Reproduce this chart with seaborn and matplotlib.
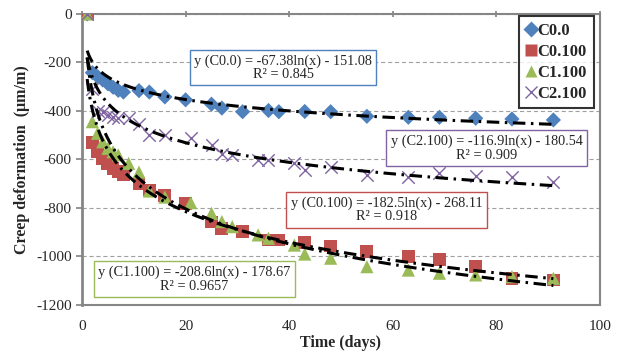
import numpy as np
import pandas as pd
import matplotlib
matplotlib.use("Agg")
import matplotlib.pyplot as plt
import seaborn as sns
from matplotlib.lines import Line2D

# ---------------- data ----------------
series_names = ["C0.0", "C0.100", "C1.100", "C2.100"]

days_a = [1, 2, 3, 4, 5, 6, 7, 8, 11, 13, 16, 20, 25, 27, 31, 36, 38, 43, 48, 55, 63, 69, 76, 83, 91]
days_b = [1, 2, 3, 4, 5, 6, 7, 9, 11, 13, 16, 21, 25, 27, 29, 34, 36, 41, 43, 48, 55, 63, 69, 76, 83, 91]

c00 = [0, -242, -258, -272, -288, -302, -315, -322, -316, -322, -342, -354, -372, -388, -403,
       -398, -403, -402, -403, -422, -426, -426, -430, -433, -437]
c0100 = [0, -530, -568, -595, -616, -636, -650, -664, -698, -726, -750, -780, -858, -884, -898,
         -932, -932, -943, -957, -980, -1001, -1014, -1042, -1090, -1097]
c1100 = [0, -444, -492, -527, -554, -568, -581, -616, -652, -730, -755, -778, -822, -856, -877,
         -911, -925, -953, -990, -1007, -1042, -1056, -1069, -1076, -1083, -1090]
c2100 = [0, -310, -400, -405, -415, -425, -430, -428, -455, -497, -497, -511, -540, -576, -580,
         -602, -602, -616, -643, -629, -664, -671, -657, -668, -671, -692]

# logarithmic trendline coefficients y = a ln(x) + b
trend_a = [-67.38, -182.5, -208.6, -116.9]
trend_b = [-151.08, -268.11, -178.67, -180.54]
trend_r2 = ["0.845", "0.918", "0.9657", "0.909"]

x_ticks = [0, 20, 40, 60, 80, 100]
y_ticks = [0, -200, -400, -600, -800, -1000, -1200]

# ---------------- style ----------------
sns.set_theme(style="white")
plt.rcParams["font.family"] = ["Liberation Serif", "DejaVu Serif"]
plt.rcParams["lines.scale_dashes"] = False
plt.rcParams["axes.unicode_minus"] = False

colors = {"C0.0": "#4F81BD", "C0.100": "#C0504D", "C1.100": "#9BBB59", "C2.100": "#8064A2"}
markers = {"C0.0": "D", "C0.100": "s", "C1.100": "^", "C2.100": "x"}
sizes = {"C0.0": 60, "C0.100": 85, "C1.100": 90, "C2.100": 80}

frames = [
    pd.DataFrame({"day": days_a, "val": c00, "series": "C0.0"}),
    pd.DataFrame({"day": days_a, "val": c0100, "series": "C0.100"}),
    pd.DataFrame({"day": days_b, "val": c1100, "series": "C1.100"}),
    pd.DataFrame({"day": days_b, "val": c2100, "series": "C2.100"}),
]
df = pd.concat(frames, ignore_index=True)

fig = plt.figure(figsize=(6.25, 3.57), dpi=100)
ax = fig.add_axes([0.1312, 0.1457, 0.8288, 0.8151])

# gridlines
ax.set_axisbelow(True)
ax.yaxis.grid(True, color="#A0A0A0", linestyle=(0, (3, 2)), linewidth=0.8)
ax.xaxis.grid(False)

for name in series_names:
    sub = df[df["series"] == name]
    if markers[name] == "x":
        sns.scatterplot(data=sub, x="day", y="val", ax=ax, marker="x", color=colors[name],
                        s=sizes[name], linewidth=1.0, legend=False, zorder=3)
    else:
        sns.scatterplot(data=sub, x="day", y="val", ax=ax, marker=markers[name], color=colors[name],
                        s=sizes[name], edgecolor="none", legend=False, zorder=3)

# trendlines
xt = np.linspace(1, 91, 400)
for a, b in zip(trend_a, trend_b):
    ax.plot(xt, a * np.log(xt) + b, color="black", linewidth=2.2,
            dashes=(9, 4, 1.8, 4), zorder=4)

ax.set_xlim(0, 100)
ax.set_ylim(-1200, 0)
ax.set_xticks(x_ticks)
ax.set_yticks(y_ticks)
ax.tick_params(axis="x", top=True, bottom=False, labeltop=False, labelbottom=True,
               direction="inout", length=5, color="#868686", labelsize=11, pad=8)
ax.tick_params(axis="y", left=True, direction="out", length=4, color="#868686", labelsize=11)
for side in ["left", "bottom", "top", "right"]:
    ax.spines[side].set_visible(True)
    ax.spines[side].set_color("#868686")
ax.spines["left"].set_linewidth(2.0)
ax.spines["bottom"].set_linewidth(1.5)
ax.spines["top"].set_linewidth(1.5)
ax.spines["right"].set_linewidth(1.5)

ax.set_xlabel("Time (days)", fontsize=11.5, fontweight="bold", labelpad=2)
ax.set_ylabel("Creep deformation  (\u03bcm/m)", fontsize=11.5, fontweight="bold", labelpad=4)

# equation boxes
box_pos = {"C0.0": (38.8, -221), "C0.100": (58.8, -808), "C1.100": (21.7, -1093), "C2.100": (78.1, -553)}
for name, a, b, r2 in zip(series_names, trend_a, trend_b, trend_r2):
    sign = "-" if b < 0 else "+"
    txt = f"y ({name}) = {a:g}ln(x) {sign} {abs(b):.2f}\nR\u00b2 = {r2}"
    x0, y0 = box_pos[name]
    ax.text(x0, y0, txt, ha="center", va="center", multialignment="center", fontsize=10.3,
            zorder=6, linespacing=1.05,
            bbox=dict(boxstyle="square,pad=0.3", facecolor="white", edgecolor=colors[name], linewidth=1.0))

# legend
handles = []
for name in series_names:
    if markers[name] == "x":
        h = Line2D([], [], linestyle="none", marker="x", color=colors[name], markersize=8, markeredgewidth=1.0)
    else:
        h = Line2D([], [], linestyle="none", marker=markers[name], color=colors[name],
                   markersize=8, markeredgecolor="none")
    handles.append(h)
leg = ax.legend(handles, series_names, loc="upper right", bbox_to_anchor=(0.988, 0.993),
                borderaxespad=0.0,
                prop={"weight": "bold", "size": 12, "family": "Liberation Serif"},
                frameon=True, fancybox=False, handlelength=0.6, handletextpad=0.1,
                borderpad=0.4, labelspacing=0.3)
leg.get_frame().set_edgecolor("black")
leg.get_frame().set_linewidth(1.5)
leg.set_zorder(7)

fig.savefig("out.png", dpi=100)
